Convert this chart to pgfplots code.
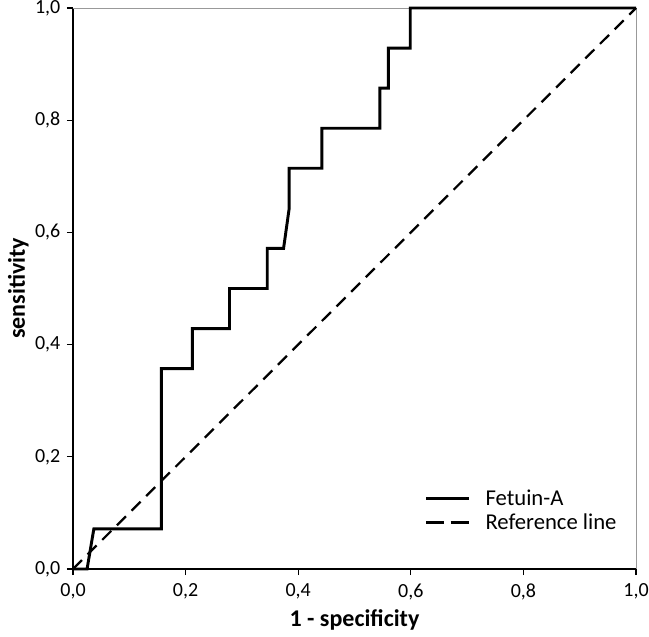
\documentclass[border=0pt]{standalone}
\usepackage{pgfplots}
\pgfplotsset{compat=1.18}
\usepackage{fontspec}
\setmainfont{Carlito}
\begin{document}
\begin{tikzpicture}
\begin{axis}[
  scale only axis,
  width=422.25pt, height=420.75pt,
  xmin=0, xmax=1, ymin=0, ymax=1,
  axis x line*=bottom, axis y line*=left,
  axis line style={line width=1.1pt, -},
  xtick={0,0.2,...,1}, ytick={0,0.2,...,1},
  tick align=outside, tick style={line width=1pt, black},
  major tick length=4.5pt,
  ticklabel style={font=\fontsize{15}{17}\selectfont},
  xticklabel style={yshift=-3pt},
  yticklabel style={xshift=-1.5pt},
  /pgf/number format/.cd, use comma, fixed, fixed zerofill, precision=1, assume math mode=true,
  /pgfplots/.cd,
  xlabel={\textbf{1 - specificity}},
  ylabel={\textbf{sensitivity}},
  label style={font=\fontsize{18}{20}\selectfont},
  xlabel style={at={(axis description cs:0.5,0)}, anchor=center, yshift=-38.5pt},
  ylabel style={at={(axis description cs:0,0.5)}, anchor=center, rotate=0, yshift=41pt},
  legend style={draw=none, fill=none, inner sep=0pt, at={(axis cs:0.624,0.062)}, anchor=south west,
    font=\fontsize{17}{19}\selectfont, row sep=0.5pt,
    /tikz/every odd column/.style={column sep=9.5pt}},
  legend cell align=left,
  clip=false,
]
\draw[gray!80, line width=0.6pt] (axis cs:0,1) -- (axis cs:1,1) -- (axis cs:1,0);
\addplot[black, line width=2.2pt, line join=miter,
  legend image code/.code={\draw[line width=2.2pt] (0pt,0pt) -- (32pt,0pt);}] coordinates {
  (0,0) (0.025,0) (0.037,0.0714) (0.157,0.0714) (0.157,0.3571)
  (0.212,0.3571) (0.212,0.4286) (0.278,0.4286) (0.278,0.5)
  (0.345,0.5) (0.345,0.5714) (0.374,0.5714) (0.384,0.6429) (0.384,0.7143)
  (0.442,0.7143) (0.442,0.7857) (0.545,0.7857) (0.545,0.8571)
  (0.560,0.8571) (0.560,0.9286) (0.599,0.9286) (0.599,1) (1,1)
};
\addlegendentry{Fetuin-A}
\addplot[black, line width=1.7pt, dash pattern=on 9.5pt off 6pt,
  legend image code/.code={\draw[line width=1.7pt, dash pattern=on 13.5pt off 5pt] (0pt,0pt) -- (32pt,0pt);}]
  coordinates {(0,0) (1,1)};
\addlegendentry{Reference line}
\end{axis}
\pgfresetboundingbox
\path (-54.75pt,-50.25pt) rectangle (432pt,426.75pt);
\end{tikzpicture}
\end{document}
